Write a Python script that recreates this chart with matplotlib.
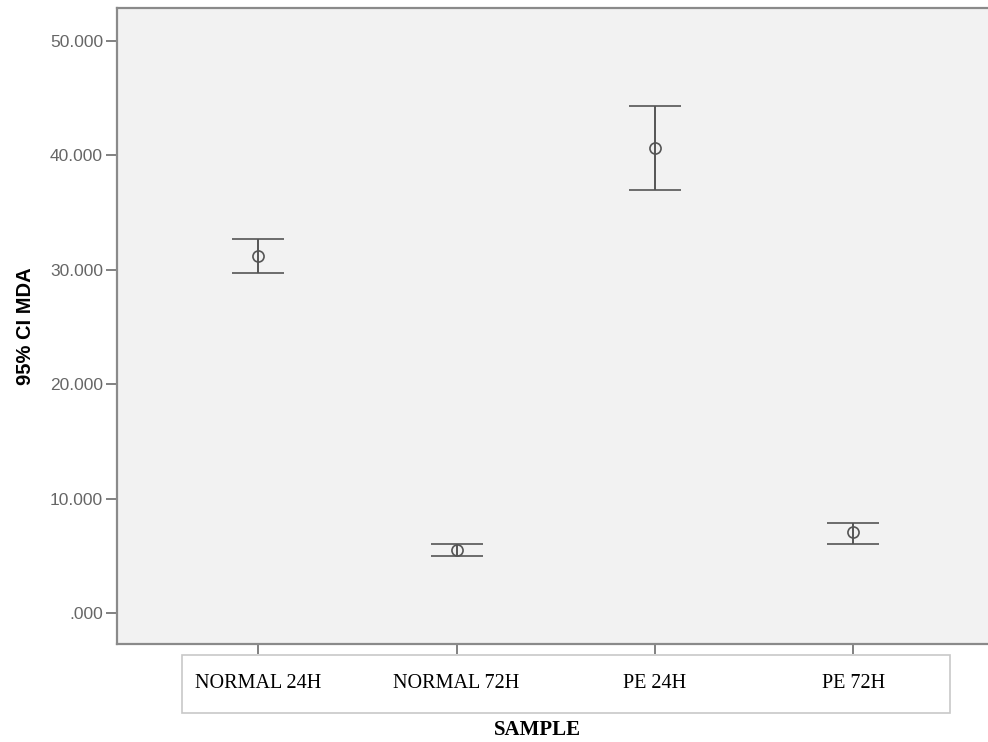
import matplotlib
matplotlib.use("Agg")
import matplotlib.pyplot as plt
from matplotlib.patches import Rectangle
from matplotlib.ticker import FuncFormatter
import numpy as np

categories = ["NORMAL 24H", "NORMAL 72H", "PE 24H", "PE 72H"]
means = [31.16, 5.5, 40.67, 7.05]
lower = [29.75, 4.95, 37.0, 6.06]
upper = [32.67, 6.0, 44.35, 7.89]
yticks = [0, 10, 20, 30, 40, 50]

W, H = 988, 742
fig = plt.figure(figsize=(W / 100, H / 100), dpi=100)
fig.patch.set_facecolor("white")
ax = fig.add_axes([117 / W, 1 - 644 / H, (W - 117) / W, (644 - 8) / H])
ax.set_facecolor("#f2f2f2")

x = np.arange(len(categories))
m = np.array(means)
err = np.vstack([m - np.array(lower), np.array(upper) - m])
ax.errorbar(x, m, yerr=err, fmt="o", color="#555555", ecolor="#555555",
            elinewidth=1.4, capsize=18.5, capthick=1.4,
            markersize=8, markerfacecolor="none", markeredgecolor="#555555",
            markeredgewidth=1.2)

ax.set_xlim(-0.712, 3.68)
ax.set_ylim(-2.71, 52.88)

ax.set_yticks(yticks)
def fmt(v, pos):
    s = f"{v:.3f}"
    if s.startswith("0"):
        s = s[1:]
    return s
ax.yaxis.set_major_formatter(FuncFormatter(fmt))
ax.tick_params(axis="y", length=8, width=1.3, color="#777777", pad=2,
               labelsize=12.5, labelcolor="#666666")
for lab in ax.get_yticklabels():
    lab.set_fontfamily("Liberation Sans")

ax.set_xticks(x)
ax.set_xticklabels(categories, fontfamily="Liberation Serif", fontsize=14.5, color="black")
ax.tick_params(axis="x", length=7.2, width=1.3, color="#777777", pad=21)
for lab in ax.get_xticklabels():
    lab.set_va("center")

for side in ["left", "bottom", "top"]:
    ax.spines[side].set_color("#8a8a8a")
    ax.spines[side].set_linewidth(1.6)
ax.spines["right"].set_visible(False)

ax.set_ylabel("95% CI MDA", fontfamily="Liberation Sans", fontweight="bold",
              fontsize=14.5, color="black")
ax.yaxis.set_label_coords(-0.094, 0.5)

fig.patches.append(Rectangle((182 / W, 1 - 713 / H), (950 - 182) / W, (713 - 655) / H,
                             transform=fig.transFigure, fill=False,
                             edgecolor="#c8c8c8", linewidth=1.2, zorder=0))

fig.text(537 / W, 1 - 730 / H, "SAMPLE", fontfamily="Liberation Serif",
         fontweight="bold", fontsize=15, ha="center", va="center", color="black")

fig.savefig("out.png", dpi=100)
